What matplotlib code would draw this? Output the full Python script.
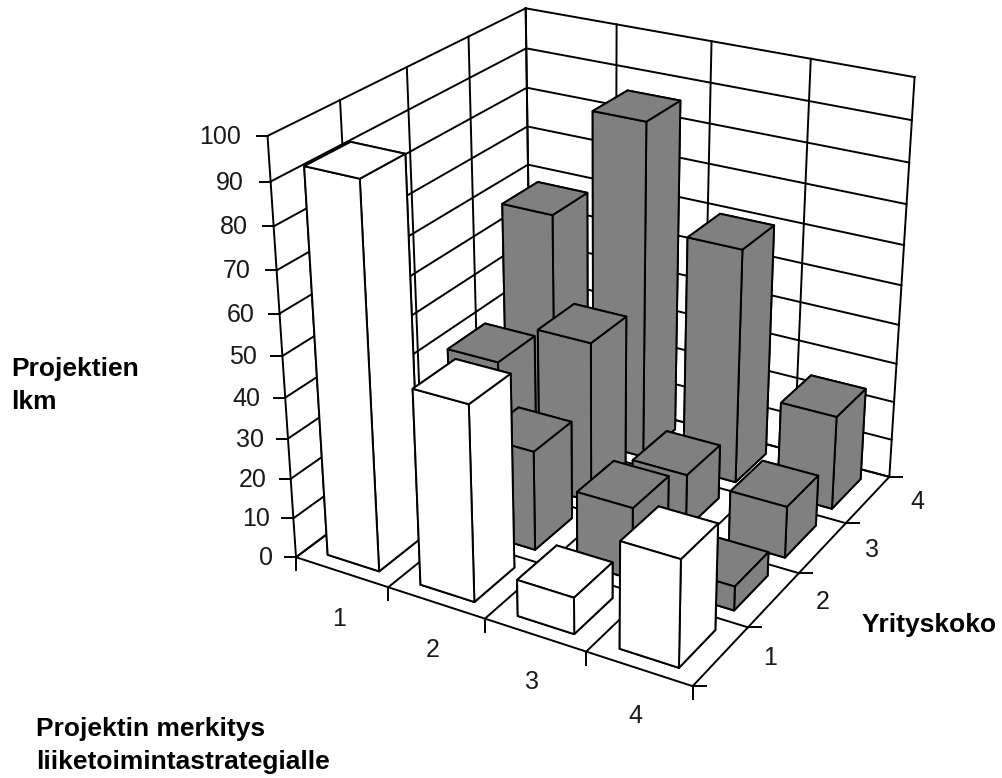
import numpy as np
import matplotlib
matplotlib.use('Agg')
import matplotlib.pyplot as plt
from matplotlib.lines import Line2D
from matplotlib.transforms import IdentityTransform
from mpl_toolkits.mplot3d import proj3d

plt.rcParams['font.family'] = ['Liberation Sans', 'DejaVu Sans']

# Data: number of projects, rows = Yrityskoko 1..4, columns = merkitys 1..4
merkitys = [1, 2, 3, 4]
yrityskoko = [1, 2, 3, 4]
koko_1 = [93, 48, 9, 26]
koko_2 = [0, 25, 18, 6]
koko_3 = [30, 41, 14, 13]
koko_4 = [58, 86, 60, 24]
z_ticks = [0, 10, 20, 30, 40, 50, 60, 70, 80, 90, 100]

W, H = 1002, 778
LW = 1.4
GREY = '#808080'

fig = plt.figure(figsize=(W / 100, H / 100), dpi=100, facecolor='white')
ax = fig.add_subplot(projection='3d', computed_zorder=False)
ax.set_axis_off()
ax.set_xlim3d(0, 4, view_margin=0)
ax.set_ylim3d(0, 4, view_margin=0)
ax.set_zlim3d(0, 100, view_margin=0)
ax.view_init(elev=25.25, azim=-60.044, roll=-0.027)
ax.set_proj_type('persp', focal_length=0.543)
ax.set_box_aspect((1, 1, 1))

# camera fit: pixel = s * projected + t
s, tx, ty = 4114.76, 602.33, 458.53
x0, x1 = ax.viewLim.intervalx
y0, y1 = ax.viewLim.intervaly
ax.set_position([(tx + s * x0) / W, (ty + s * y0) / H, s * (x1 - x0) / W, s * (y1 - y0) / H])
ax.apply_aspect()
M = ax.get_proj()


def to_px(x, y, z):
    X, Y, _ = proj3d.proj_transform(x, y, z, M)
    return ax.transData.transform((X, Y))


def line3(a, b):
    ax.plot3D(*zip(a, b), color='black', lw=LW, zorder=1, solid_capstyle='projecting')


# walls and floor grid
for z in z_ticks:
    line3((0, 0, z), (0, 4, z))
    line3((0, 4, z), (4, 4, z))
for k in range(5):
    line3((0, k, 0), (0, k, 100))
    line3((k, 4, 0), (k, 4, 100))
    line3((k, 0, 0), (k, 4, 0))
    line3((0, k, 0), (4, k, 0))

# bars, back to front
w, d = 0.56, 0.65
rows = [koko_1, koko_2, koko_3, koko_4]
cells = [(i, j) for j in range(4) for i in range(4)]
cells.sort(key=lambda c: c[0] - c[1])
for n, (i, j) in enumerate(cells):
    val = rows[j][i]
    if val == 0:
        continue
    face = 'white' if j == 0 else GREY
    ax.bar3d(i + 0.5 - w / 2, j + 0.5 - d / 2, 0, w, d, val, color=face,
             edgecolor='black', linewidth=LW, shade=False, zorder=10 + n)


def tick(px, dx, dy):
    fig.add_artist(Line2D([px[0], px[0] + dx], [px[1], px[1] + dy], color='black',
                          lw=LW, transform=IdentityTransform()))


def label(px, dx, dy, txt, ha='center'):
    fig.text(px[0] + dx, px[1] + dy, txt, fontsize=18, color='#1a1a1a', ha=ha, va='center',
             transform=IdentityTransform())


# ticks and tick labels
for z in z_ticks:
    p = to_px(0, 0, z)
    tick(p, -11, 0)
    label(p, -23 - z * 0.04, -1, str(z), ha='right')
for k in range(5):
    tick(to_px(k, 0, 0), 0, -13)
    tick(to_px(4, k, 0), 13, 0)
for i, m in enumerate(merkitys):
    label(to_px(i + 0.5, 0, 0), -3, -47, str(m))
for j, m in enumerate(yrityskoko):
    label(to_px(4, j + 0.5, 0), 49, -2, str(m))

# axis titles
bold = dict(fontsize=19, fontweight='bold', color='black', va='baseline',
            transform=IdentityTransform())
fig.text(11, H - 376, 'Projektien', **bold)
fig.text(11, H - 409, 'lkm', **bold)
fig.text(862, H - 632, 'Yrityskoko', **bold)
fig.text(36, H - 736, 'Projektin merkitys', **bold)
fig.text(36, H - 769, 'liiketoimintastrategialle', **bold)

fig.savefig('out.png', dpi=100, facecolor='white')
